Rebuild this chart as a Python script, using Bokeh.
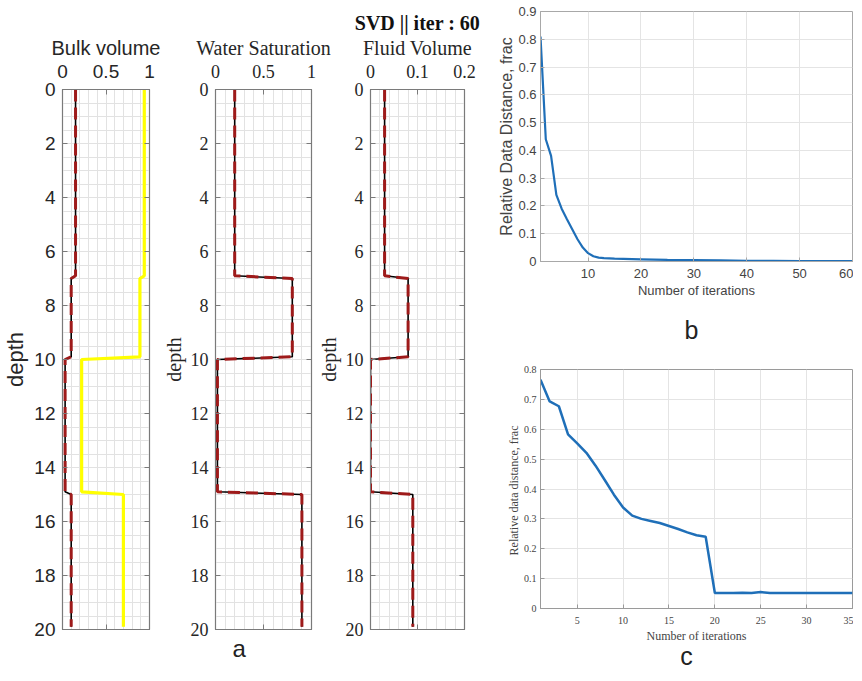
import numpy as np
from bokeh.plotting import figure
from bokeh.models import (Range1d, LinearAxis, FixedTicker, SingleIntervalTicker, Title,
                          CustomJSTickFormatter)
from bokeh.layouts import row, column
from bokeh.embed import file_html
from bokeh.resources import INLINE
from bokeh.core.properties import value

# ---------------- data ----------------
depth = [0.0, 6.9, 7.0, 9.9, 10.0, 14.9, 15.0, 19.9]
bulk_true = [0.15, 0.15, 0.10, 0.10, 0.03, 0.03, 0.10, 0.10]
bulk_inv = [0.15, 0.15, 0.10, 0.10, 0.03, 0.03, 0.10, 0.10]
bulk_yellow = [0.94, 0.94, 0.89, 0.89, 0.22, 0.22, 0.70, 0.70]
sw_true = [0.20, 0.20, 0.80, 0.80, 0.02, 0.02, 0.90, 0.90]
sw_inv = [0.20, 0.20, 0.80, 0.80, 0.02, 0.02, 0.90, 0.90]
fv_true = [0.03, 0.03, 0.08, 0.08, 0.00, 0.00, 0.09, 0.09]
fv_inv = [0.03, 0.03, 0.08, 0.08, 0.00, 0.00, 0.09, 0.09]

depth_ticks = [0, 2, 4, 6, 8, 10, 12, 14, 16, 18, 20]
bulk_ticks = [0, 0.5, 1]
sw_ticks = [0, 0.5, 1]
fv_ticks = [0, 0.1, 0.2]

iter_b = [1, 2, 3, 4, 5, 6, 7, 8, 9, 10, 11, 12, 13, 15, 20, 25, 30, 35, 40, 45, 50, 55, 60]
dist_b = [0.81, 0.44, 0.38, 0.24, 0.19, 0.152, 0.116, 0.08, 0.05, 0.03, 0.019, 0.014, 0.012,
          0.010, 0.008, 0.006, 0.005, 0.004, 0.002, 0.002, 0.0015, 0.001, 0.001]
b_xticks = [10, 20, 30, 40, 50, 60]
b_yticks = [0, 0.1, 0.2, 0.3, 0.4, 0.5, 0.6, 0.7, 0.8, 0.9]

iter_c = list(range(1, 36))
dist_c = [0.766, 0.693, 0.677, 0.583, 0.553, 0.521, 0.478, 0.430, 0.381, 0.338,
          0.311, 0.300, 0.293, 0.286, 0.276, 0.266, 0.255, 0.245, 0.240, 0.052,
          0.052, 0.052, 0.053, 0.052, 0.055, 0.052, 0.052, 0.052, 0.052, 0.052,
          0.052, 0.052, 0.052, 0.052, 0.052]
c_xticks = [5, 10, 15, 20, 25, 30, 35]
c_yticks = [0, 0.1, 0.2, 0.3, 0.4, 0.5, 0.6, 0.7, 0.8]

panel_letters = ["a", "b", "c"]

SANS = "Liberation Sans"
SERIF = "Liberation Serif"
FRAME = "#7a7a7a"
GRID = "#e2e2e2"
RED = "#9e1a1a"
BLANK = CustomJSTickFormatter(code="return ''")


def track(width, left, right, xmax, xticks, title, font, tick_size, depth_size, minor,
          margin_left):
    p = figure(width=width, height=665, x_range=Range1d(0, xmax), y_range=Range1d(20, 0),
               x_axis_location="above", output_backend="svg", toolbar_location=None,
               min_border_left=left, min_border_right=right, min_border_top=89,
               min_border_bottom=35, background_fill_color="white",
               border_fill_color=None, margin=(0, 0, 0, margin_left))
    p.outline_line_color = FRAME
    p.outline_line_width = 1.2
    xa = p.xaxis[0]
    xa.ticker = FixedTicker(ticks=xticks)
    xa.axis_label = title
    ya = p.yaxis[0]
    ya.ticker = FixedTicker(ticks=depth_ticks)
    ya.axis_label = "depth"
    for ax in (xa, ya):
        ax.major_tick_in = 5
        ax.major_tick_out = 0
        ax.minor_tick_line_color = None
        ax.axis_line_color = FRAME
        ax.major_tick_line_color = FRAME
        ax.major_label_text_font = font
        ax.major_label_text_font_size = tick_size
        ax.major_label_text_color = "#262626"
        ax.axis_label_text_font = font
        ax.axis_label_text_font_style = "normal"
        ax.axis_label_text_color = "#262626"
    xa.axis_label_text_font_size = "20px"
    ya.axis_label_text_font_size = depth_size
    xa.major_label_standoff = 12
    xa.axis_label_standoff = 3
    ya.major_label_standoff = 7
    ya.axis_label_standoff = 3
    # mirrored ticks (MATLAB box)
    for loc in ("right", "below"):
        ax = LinearAxis(ticker=FixedTicker(ticks=depth_ticks if loc == "right" else xticks),
                        formatter=BLANK)
        ax.major_tick_in = 5
        ax.major_tick_out = 0
        ax.minor_tick_line_color = None
        ax.axis_line_color = FRAME
        ax.major_tick_line_color = FRAME
        ax.major_label_standoff = 0
        p.add_layout(ax, loc)
    p.xgrid.ticker = SingleIntervalTicker(interval=minor)
    p.ygrid.ticker = SingleIntervalTicker(interval=0.5)
    p.xgrid.grid_line_color = GRID
    p.ygrid.grid_line_color = GRID
    return p


pa1 = track(175, 54, 26, 1.0, bulk_ticks, "Bulk volume", SANS, "19px", "22px", 0.1, 0)
pa1.line(bulk_yellow, depth, line_color="#ffff00", line_width=3.2)
pa1.line(bulk_true, depth, line_color="black", line_width=1.6)
pa1.line(bulk_inv, depth, line_color=RED, line_width=3, line_dash="12 6")

pa2 = track(177, 55, 25, 1.0, sw_ticks, "Water Saturation", SERIF, "18px", "20px", 0.1, -16)
pa2.line(sw_true, depth, line_color="black", line_width=1.6)
pa2.line(sw_inv, depth, line_color=RED, line_width=3, line_dash="12 6")
pa2.add_layout(Title(text=panel_letters[0], align="left", offset=17, text_font=SANS,
                     text_font_size="24px", text_font_style="normal", text_color="#222222",
                     standoff=7), "below")

pa3 = track(170, 55, 20, 0.2, fv_ticks, "Fluid Volume", SERIF, "18px", "20px", 0.02, -22)
pa3.line(fv_true, depth, line_color="black", line_width=1.6)
pa3.line(fv_inv, depth, line_color=RED, line_width=3, line_dash="12 6")
pa3.add_layout(Title(text="SVD || iter : 60", align="center", text_font=SERIF,
                     text_font_size="20px", text_font_style="bold", text_color="#111111",
                     standoff=0), "above")


def conv(width, height, left, right, top, bottom, xr, yr, xticks, yticks, font, tick_size,
         xlab_size, ylab_size, xlabel, ylabel, frame_col, tick_standoff, xlab_standoff):
    p = figure(width=width, height=height, x_range=Range1d(*xr), y_range=Range1d(*yr),
               output_backend="svg", toolbar_location=None, min_border_left=left,
               min_border_right=right, min_border_top=top, min_border_bottom=bottom,
               border_fill_color=None)
    p.outline_line_color = frame_col
    p.xaxis.ticker = FixedTicker(ticks=xticks)
    p.yaxis.ticker = FixedTicker(ticks=yticks)
    p.xaxis.axis_label = xlabel
    p.yaxis.axis_label = ylabel
    for ax in (p.xaxis[0], p.yaxis[0]):
        ax.major_tick_in = 4
        ax.major_tick_out = 0
        ax.minor_tick_line_color = None
        ax.axis_line_color = frame_col
        ax.major_tick_line_color = frame_col
        ax.major_label_text_font = font
        ax.major_label_text_font_size = tick_size
        ax.major_label_text_color = "#444444"
        ax.axis_label_text_font = font
        ax.axis_label_text_font_style = "normal"
        ax.axis_label_text_color = "#444444"
        ax.major_label_standoff = 4
        ax.axis_label_standoff = 0
    p.xaxis.major_label_standoff = tick_standoff
    p.xaxis.axis_label_standoff = xlab_standoff
    p.xaxis.axis_label_text_font_size = xlab_size
    p.yaxis.axis_label_text_font_size = ylab_size
    p.xgrid.ticker = FixedTicker(ticks=xticks)
    p.ygrid.ticker = FixedTicker(ticks=yticks)
    p.xgrid.grid_line_color = "#e4e4e4"
    p.ygrid.grid_line_color = "#e4e4e4"
    return p


def letter_strip(height, letter, xfrac, yfrac):
    s = figure(width=369, height=height, x_range=Range1d(0, 1), y_range=Range1d(0, 1),
               x_axis_type=None, y_axis_type=None, output_backend="svg",
               toolbar_location=None, min_border=0, background_fill_color=None,
               border_fill_color=None, outline_line_color=None)
    s.grid.visible = False
    s.text(x=[xfrac], y=[yfrac], text=[letter], text_font=value(SANS),
           text_font_size="25px", text_align="center", text_baseline="middle",
           text_color="#222222")
    return s


pb = conv(369, 300, 56, 1, 11, 39, (1, 60), (0, 0.9), b_xticks, b_yticks, SANS, "13px", "13px",
          "16px", "Number of iterations", "Relative Data Distance, frac", "#a8a8a8", 7, 2)
pb.line(iter_b, dist_b, line_color="#1f6fb8", line_width=2.2)

sb = letter_strip(40, panel_letters[1], 0.484, 0.275)

pc = conv(369, 305, 56, 1, 29, 32, (1, 35), (0, 0.8), c_xticks, c_yticks, SERIF, "10px", "12px",
          "12px", "Number of iterations", "Relative data distance,  frac", "#9a9a9a", 8, 2)
pc.line(iter_c, dist_c, line_color="#1f6fb8", line_width=2.5)

sc = letter_strip(20, panel_letters[2], 0.468, 0.5)

layout = row(pa1, pa2, pa3, column(pb, sb, pc, sc))

open("out.html", "w").write(file_html(layout, INLINE))
